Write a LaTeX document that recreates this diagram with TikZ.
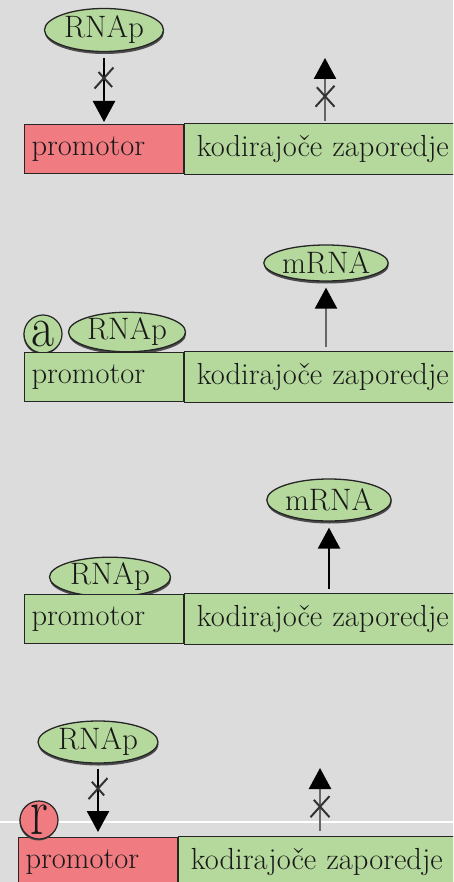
\documentclass[tikz,border=0pt]{standalone}
\usepackage{graphicx}
\usetikzlibrary{positioning, shapes.geometric, shapes.misc, arrows.meta, shadows}

\definecolor{bggray}{RGB}{220,220,220}
\definecolor{promred}{RGB}{240,124,130}
\definecolor{seqgreen}{RGB}{181,217,157}

\begin{document}
\begin{tikzpicture}[x=1pt, y=-1pt,
    lbl/.style = {font=\fontsize{30.5}{32}\selectfont, text=black!90},
    prombox/.style = {lbl, rectangle, draw=black!85, line width=1.2pt, minimum width=159pt, minimum height=49pt, text width=145pt, inner sep=7pt, align=left, anchor=north west},
    codbox/.style = {lbl, rectangle, draw=black!85, line width=1.2pt, fill=seqgreen, minimum width=290pt, minimum height=49pt, text width=266pt, inner sep=12pt, align=left},
    enzyme/.style = {font=\fontsize{31}{33}\selectfont, text=black!90, ellipse, draw=black!85, line width=1.3pt, fill=seqgreen, inner sep=0pt, minimum width=120pt, minimum height=40pt, drop shadow={shadow xshift=0.5pt, shadow yshift=-2.5pt, fill=black!70, opacity=1}},
    factor/.style = {circle, draw=black!85, line width=1.2pt, minimum size=38pt, inner sep=0pt, text=black!90, font=\fontsize{50}{50}\selectfont, drop shadow={shadow xshift=-0.5pt, shadow yshift=-1.5pt, fill=black!70, opacity=1}},
    transc/.style = {line width=2.5pt, -{Triangle[width=22pt, length=21pt, color=black]}},
    blockx/.style = {cross out, draw=black!80, line width=2pt, minimum width=17pt, minimum height=19pt, inner sep=0pt}]

    \useasboundingbox (0,0) rectangle (453,882);
    \clip (0,0) rectangle (453,882);
    \fill[bggray] (0,0) rectangle (453,882);
    \draw[white, line width=1.5pt] (0,822) -- (453,822);

    % brez aktivatorja
    \node[enzyme, minimum width=119pt, minimum height=43pt] (rnapA) at (104,30) {RNAp};
    \node[prombox, fill=promred] (promA) at (24,124) {promotor};
    \node[codbox, right=0pt of promA] (codA) {kodirajoče zaporedje};
    \coordinate (tipA) at (325,58);
    \draw[transc, shorten <=6pt, shorten >=2pt] (rnapA.south) -- node[pos=.36, blockx] (xA1) {} (rnapA.south |- promA.north);
    \draw[transc, draw=black!60, shorten <=2pt] (tipA |- codA.north) -- node[pos=.41, blockx] (xA2) {} (tipA);

    % aktivator
    \node[factor, fill=seqgreen] (actB) at (43,334) {\scalebox{1}[1.15]{a}};
    \node[enzyme, minimum width=117pt, minimum height=39pt] (rnapB) at (127,332) {RNAp};
    \node[enzyme, minimum width=118pt, minimum height=36pt] (mrnaB) at (326,263) {mRNA};
    \node[prombox, fill=seqgreen] (promB) at (24,352) {promotor};
    \node[codbox, right=0pt of promB] (codB) {kodirajoče zaporedje};
    \draw[transc, draw=black!60, shorten <=4pt, shorten >=6pt] (mrnaB.south |- codB.north) -- (mrnaB.south);

    % samo RNAp
    \node[enzyme, minimum width=121pt, minimum height=36pt] (rnapC) at (110,577) {RNAp};
    \node[enzyme, minimum width=121pt, minimum height=42pt] (mrnaC) at (329,500) {mRNA};
    \node[prombox, fill=seqgreen] (promC) at (24,594) {promotor};
    \node[codbox, right=0pt of promC] (codC) {kodirajoče zaporedje};
    \draw[transc, shorten <=4pt, shorten >=6pt] (mrnaC.south |- codC.north) -- (mrnaC.south);

    % represor
    \node[enzyme, minimum height=42pt] (rnapD) at (98,742) {RNAp};
    \node[prombox, fill=promred] (promD) at (18,837) {promotor};
    \node[codbox, right=0pt of promD] (codD) {kodirajoče zaporedje};
    \coordinate (tipD) at (320,768);
    \draw[transc, shorten <=5pt, shorten >=5pt] (rnapD.south) -- node[pos=.34, blockx] (xD1) {} (rnapD.south |- promD.north);
    \draw[transc, draw=black!60, shorten <=5pt] (tipD |- codD.north) -- node[pos=.43, blockx] (xD2) {} (tipD);
    \node[factor, fill=promred] (repD) at (39,820) {\scalebox{1}[1.35]{r}};
\end{tikzpicture}
\end{document}
